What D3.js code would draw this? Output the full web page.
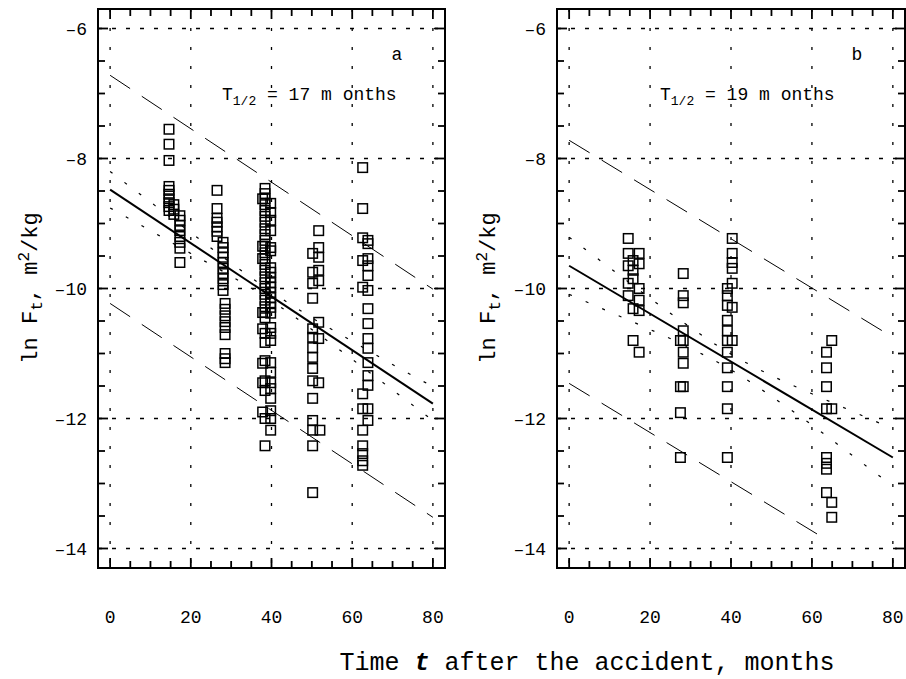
<html>
<head>
<meta charset="utf-8">
<script src="https://d3js.org/d3.v7.min.js"></script>
<style>
body { margin: 0; background: #fff; }
text { font-family: "Liberation Mono", "Courier New", monospace; fill: #000; }
</style>
</head>
<body>
<div id="chart"></div>
<script>

// ---- data ----
var monthTicks = [0, 20, 40, 60, 80]
var lnTicks = [-14, -12, -10, -8, -6]

// panel a: [months, ln F]
var pointsA = [
    [14.6,-7.55],[14.6,-7.78],[14.6,-8.03],[14.6,-8.43],[14.6,-8.49],[14.6,-8.55],[14.6,-8.62],[14.6,-8.68],[14.6,-8.74],[14.6,-8.80],
    [15.8,-8.71],[15.8,-8.78],[15.8,-8.86],
    [17.3,-8.88],[17.3,-8.95],[17.3,-9.03],[17.3,-9.11],[17.3,-9.20],[17.3,-9.29],[17.3,-9.38],[17.3,-9.60],
    [26.5,-8.49],[26.5,-8.77],[26.5,-8.92],[26.5,-8.98],[26.5,-9.05],[26.5,-9.12],[26.5,-9.20],
    [28.0,-9.29],[28.0,-9.37],[28.0,-9.45],[28.0,-9.52],[28.0,-9.60],[28.0,-9.69],[28.0,-9.77],[28.0,-9.85],[28.0,-9.94],[28.0,-10.03],
    [28.5,-10.23],[28.5,-10.32],[28.5,-10.42],[28.5,-10.51],[28.5,-10.60],[28.5,-10.71],[28.5,-11.00],[28.5,-11.08],[28.5,-11.14],
    [37.8,-8.62],[37.8,-9.35],[37.8,-9.54],[37.8,-10.37],[37.8,-10.62],[37.8,-11.15],[37.8,-11.45],[37.8,-11.90],
    [38.4,-8.46],[38.4,-8.54],[38.4,-8.62],[38.4,-8.71],[38.4,-8.80],[38.4,-8.89],[38.4,-8.98],[38.4,-9.08],[38.4,-9.17],[38.4,-9.26],
    [38.4,-9.35],[38.4,-9.45],[38.4,-9.54],[38.4,-9.63],[38.4,-9.72],[38.4,-9.82],[38.4,-9.91],[38.4,-10.00],[38.4,-10.09],[38.4,-10.18],
    [38.4,-10.28],[38.4,-10.37],[38.4,-10.45],[38.4,-10.69],[38.4,-10.83],[38.4,-11.11],[38.4,-11.42],[38.4,-11.57],[38.4,-12.00],[38.4,-12.42],
    [39.8,-8.69],[39.8,-8.83],[39.8,-8.95],[39.8,-9.11],[39.8,-9.37],[39.8,-9.42],[39.8,-9.68],[39.8,-9.75],[39.8,-9.83],[39.8,-9.91],
    [39.8,-9.98],[39.8,-10.06],[39.8,-10.14],[39.8,-10.22],[39.8,-10.29],[39.8,-10.38],[39.8,-10.60],[39.8,-10.69],[39.8,-10.80],[39.8,-11.14],
    [39.8,-11.29],[39.8,-11.45],[39.8,-11.54],[39.8,-11.69],[39.8,-11.88],[39.8,-12.00],[39.8,-12.18],
    [50.2,-9.46],[50.2,-9.75],[50.2,-9.92],[50.2,-10.15],[50.2,-10.62],[50.2,-10.75],[50.2,-10.91],[50.2,-11.06],[50.2,-11.23],[50.2,-11.42],
    [50.2,-11.69],[50.2,-12.03],[50.2,-12.18],[50.2,-12.42],[50.2,-13.14],
    [51.7,-9.11],[51.7,-9.37],[51.7,-9.52],[51.7,-9.72],[51.7,-9.88],[51.7,-10.52],[51.7,-10.77],[51.7,-11.45],[52.0,-12.18],
    [62.6,-8.14],[62.6,-8.77],[62.6,-9.22],[62.6,-9.57],[62.6,-9.98],[62.6,-11.62],[62.6,-11.85],[62.6,-12.18],[62.6,-12.42],[62.6,-12.54],
    [62.6,-12.65],[62.6,-12.72],
    [63.9,-9.26],[63.9,-9.31],[63.9,-9.54],[63.9,-9.65],[63.9,-9.80],[63.9,-10.03],[63.9,-10.31],[63.9,-10.54],[63.9,-10.77],[63.9,-10.92],
    [63.9,-11.14],[63.9,-11.34],[63.9,-11.49],[63.9,-11.85],[63.9,-12.03]
]

// panel b: [months, ln F]
var pointsB = [
    [14.6,-9.23],[14.6,-9.46],[14.6,-9.65],[14.6,-9.92],[14.6,-10.11],
    [15.8,-9.57],[15.8,-9.72],[15.8,-9.85],[15.8,-10.31],[15.8,-10.80],
    [17.3,-9.46],[17.3,-9.62],[17.3,-10.00],[17.3,-10.18],[17.3,-10.34],[17.3,-10.98],
    [28.2,-9.77],[28.2,-10.11],[28.2,-10.22],[28.2,-10.65],[28.2,-10.80],[28.2,-10.98],[28.2,-11.15],[28.2,-11.51],
    [27.5,-10.80],[27.5,-11.51],[27.5,-11.91],[27.5,-12.60],
    [39.1,-10.00],[39.1,-10.11],[39.1,-10.26],[39.1,-10.49],[39.1,-10.65],[39.1,-10.80],[39.1,-10.98],[39.1,-11.22],[39.1,-11.51],[39.1,-11.85],[39.1,-12.60],
    [40.3,-9.23],[40.3,-9.46],[40.3,-9.60],[40.3,-9.69],[40.3,-9.92],[40.3,-10.29],[40.3,-10.80],
    [64.9,-10.80],[64.9,-11.85],[64.9,-13.29],[64.9,-13.52],
    [63.6,-10.98],[63.6,-11.22],[63.6,-11.51],[63.6,-11.85],[63.6,-12.60],[63.6,-12.69],[63.6,-12.78],[63.6,-13.14]
]

// regression lines and bands
var fitA = [[0, -8.48], [80, -11.77]]
var predUpperA = [[0, -6.72], [80, -10.01]]
var predLowerA = [[0, -10.23], [80, -13.52]]
var fitB = [[0, -9.65], [80, -12.60]]
var predUpperB = [[0, -7.72], [80, -10.75]]
var predLowerB = [[0, -11.46], [64, -13.88]]

var confX = [0, 10, 20, 30, 40, 50, 60, 70, 80]
var confUpperA = [-8.20, -8.67, -9.14, -9.61, -10.05, -10.45, -10.81, -11.17, -11.51]
var confLowerA = [-8.76, -9.11, -9.46, -9.81, -10.19, -10.63, -11.09, -11.56, -12.03]
var confUpperB = [-9.21, -9.68, -10.15, -10.60, -11.01, -11.34, -11.62, -11.89, -12.16]
var confLowerB = [-10.09, -10.36, -10.63, -10.92, -11.25, -11.66, -12.10, -12.57, -13.04]

// ---- drawing ----
var svg = d3.select('#chart').append('svg')
    .attr('width', 906)
    .attr('height', 679)

var plotTop = 9, plotBottom = 568

function fmt(d) { return d < 0 ? '\u2013' + Math.abs(d) : d }

function drawPanel(p) {
    var xs = d3.scaleLinear().domain([-3, 83]).range([p.left, p.right])
    var ys = d3.scaleLinear().domain([-14.3, -5.7]).range([plotBottom, plotTop])
    var g = svg.append('g')

    // dotted grid
    g.selectAll(null).data(monthTicks).enter().append('line')
        .attr('x1', d => xs(d)).attr('x2', d => xs(d))
        .attr('y1', plotTop).attr('y2', plotBottom)
        .attr('stroke', '#000').attr('stroke-width', 1.3)
        .attr('stroke-dasharray', '3,16')
    g.selectAll(null).data(lnTicks).enter().append('line')
        .attr('x1', p.left).attr('x2', p.right)
        .attr('y1', d => ys(d)).attr('y2', d => ys(d))
        .attr('stroke', '#000').attr('stroke-width', 1.3)
        .attr('stroke-dasharray', '4,10')

    var line = d3.line().x(d => xs(d[0])).y(d => ys(d[1]))
    var curve = d3.line().x(d => xs(d[0])).y(d => ys(d[1])).curve(d3.curveMonotoneX)

    // prediction band (dashed)
    ;[p.predUpper, p.predLower].forEach(function(d) {
        g.append('path').attr('d', line(d))
            .attr('fill', 'none').attr('stroke', '#000').attr('stroke-width', 1)
            .attr('stroke-dasharray', '24,14')
    })
    // confidence band (dotted)
    ;[p.confUpper, p.confLower].forEach(function(arr) {
        var pts = confX.map((x, i) => [x, arr[i]])
        g.append('path').attr('d', curve(pts))
            .attr('fill', 'none').attr('stroke', '#000').attr('stroke-width', 1.2)
            .attr('stroke-dasharray', '3,15')
    })
    // fit
    g.append('path').attr('d', line(p.fit))
        .attr('fill', 'none').attr('stroke', '#000').attr('stroke-width', 2)

    // squares
    g.selectAll(null).data(p.points).enter().append('rect')
        .attr('x', d => xs(d[0]) - 4.75)
        .attr('y', d => ys(d[1]) - 4.75)
        .attr('width', 9.5).attr('height', 9.5)
        .attr('fill', 'none').attr('stroke', '#000').attr('stroke-width', 1.5)

    // inward ticks on all four sides
    var xTickVals = d3.range(0, 81, 5)
    var yTickVals = d3.range(0, 17).map(i => -14 + i * 0.5)
    var ticks = g.append('g').attr('stroke', '#000').attr('stroke-width', 1.8)
    function len(major) { return major ? 10 : 7 }
    ticks.selectAll(null).data(xTickVals).enter().append('line')
        .attr('x1', d => xs(d)).attr('x2', d => xs(d))
        .attr('y1', plotBottom).attr('y2', d => plotBottom - len(d % 20 == 0))
    ticks.selectAll(null).data(xTickVals).enter().append('line')
        .attr('x1', d => xs(d)).attr('x2', d => xs(d))
        .attr('y1', plotTop).attr('y2', d => plotTop + len(d % 20 == 0))
    ticks.selectAll(null).data(yTickVals).enter().append('line')
        .attr('y1', d => ys(d)).attr('y2', d => ys(d))
        .attr('x1', p.left).attr('x2', d => p.left + len(d % 2 == 0))
    ticks.selectAll(null).data(yTickVals).enter().append('line')
        .attr('y1', d => ys(d)).attr('y2', d => ys(d))
        .attr('x1', p.right).attr('x2', d => p.right - len(d % 2 == 0))

    // tick labels
    g.selectAll(null).data(monthTicks).enter().append('text')
        .attr('x', d => xs(d)).attr('y', 623)
        .attr('text-anchor', 'middle').style('font-size', '18px')
        .text(fmt)
    g.selectAll(null).data(lnTicks).enter().append('text')
        .attr('x', p.left - 11).attr('y', d => ys(d)).attr('dy', '0.35em')
        .attr('text-anchor', 'end').style('font-size', '18px')
        .text(fmt)

    // frame
    g.append('rect')
        .attr('x', p.left).attr('y', plotTop)
        .attr('width', p.right - p.left).attr('height', plotBottom - plotTop)
        .attr('fill', 'none').attr('stroke', '#000').attr('stroke-width', 2)

    // panel letter
    g.append('text').attr('x', p.right - 48).attr('y', 60)
        .attr('text-anchor', 'middle').style('font-size', '18px').text(p.letter)

    // half-life
    var tt = g.append('text').attr('x', p.tx).attr('y', 100).style('font-size', '18px')
    tt.append('tspan').text('T')
    tt.append('tspan').attr('dy', 5).style('font-size', '13px').text('1/2')
    tt.append('tspan').attr('dy', -5).text(' = ' + p.half + ' m onths')

    // y label
    var yl = g.append('text')
        .attr('transform', 'translate(' + p.ylx + ',288) rotate(-90)')
        .attr('text-anchor', 'middle').style('font-size', '22px')
    yl.append('tspan').text('ln F')
    yl.append('tspan').attr('dy', 5).style('font-size', '16px').text('t')
    yl.append('tspan').attr('dy', -5).text(', m')
    yl.append('tspan').attr('dy', -8).style('font-size', '16px').text('2')
    yl.append('tspan').attr('dy', 8).text('/kg')
}

drawPanel({
    left: 98, right: 445, letter: 'a', half: 17, tx: 222, ylx: 37,
    points: pointsA, fit: fitA, predUpper: predUpperA, predLower: predLowerA,
    confUpper: confUpperA, confLower: confLowerA
})
drawPanel({
    left: 557, right: 905, letter: 'b', half: 19, tx: 660, ylx: 495,
    points: pointsB, fit: fitB, predUpper: predUpperB, predLower: predLowerB,
    confUpper: confUpperB, confLower: confLowerB
})

// shared x title
var xt = svg.append('text').attr('x', 587).attr('y', 670)
    .attr('text-anchor', 'middle').style('font-size', '25px')
xt.append('tspan').text('Time ')
xt.append('tspan').style('font-weight', 'bold').style('font-style', 'italic').text('t')
xt.append('tspan').text(' after the accident, months')

</script>
</body>
</html>
